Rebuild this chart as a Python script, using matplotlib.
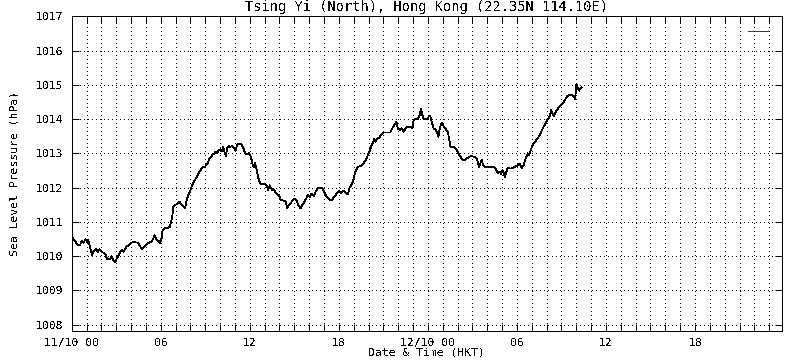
import numpy as np
import matplotlib.pyplot as plt

# hours after 11/10 00:00 HKT
hours = [
    0.00, 0.07, 0.25, 0.40, 0.56, 0.69, 0.81, 0.92, 1.03, 1.12, 1.23, 1.37, 1.50, 1.64, 1.77, 1.89,
    2.02, 2.13, 2.27, 2.38, 2.58, 2.69, 2.81, 2.92, 3.03, 3.17, 3.28, 3.39, 3.50, 3.61, 3.73, 3.84,
    4.00, 4.22, 4.45, 4.60, 4.74, 4.90, 5.05, 5.19, 5.37, 5.50, 5.59, 5.73, 5.86, 5.95, 6.06, 6.13,
    6.29, 6.47, 6.62, 6.76, 6.85, 6.98, 7.14, 7.25, 7.39, 7.52, 7.64, 7.75, 7.86, 7.97, 8.08, 8.20,
    8.31, 8.49, 8.65, 8.80, 8.98, 9.16, 9.25, 9.39, 9.48, 9.61, 9.70, 9.79, 9.88, 10.02, 10.11, 10.20,
    10.29, 10.38, 10.47, 10.56, 10.69, 10.83, 10.96, 11.05, 11.14, 11.27, 11.41, 11.54, 11.68, 11.81,
    11.95, 12.08, 12.17, 12.26, 12.35, 12.47, 12.58, 12.71, 12.89, 13.03, 13.16, 13.25, 13.34, 13.43,
    13.52, 13.61, 13.70, 13.84, 13.97, 14.10, 14.28, 14.42, 14.51, 14.64, 14.78, 14.91, 15.05, 15.18,
    15.27, 15.41, 15.54, 15.68, 15.81, 15.90, 16.04, 16.17, 16.31, 16.44, 16.58, 16.76, 16.89, 17.02,
    17.16, 17.29, 17.52, 17.68, 17.86, 17.99, 18.13, 18.31, 18.48, 18.62, 18.71, 18.87, 18.98, 19.09,
    19.20, 19.32, 19.50, 19.65, 19.81, 19.94, 20.10, 20.21, 20.33, 20.39, 20.48, 20.57, 20.71, 20.84,
    21.00, 21.16, 21.34, 21.47, 21.61, 21.74, 21.88, 21.97, 22.10, 22.24, 22.37, 22.51, 22.64, 22.77,
    22.86, 22.95, 23.04, 23.18, 23.31, 23.45, 23.54, 23.63, 23.72, 23.85, 23.99, 24.08, 24.17, 24.26,
    24.39, 24.53, 24.62, 24.71, 24.80, 24.89, 24.98, 25.07, 25.20, 25.34, 25.43, 25.52, 25.65, 25.78,
    25.96, 26.10, 26.23, 26.37, 26.50, 26.64, 26.77, 26.95, 27.13, 27.27, 27.36, 27.45, 27.54, 27.63,
    27.72, 27.85, 28.03, 28.21, 28.39, 28.52, 28.61, 28.70, 28.84, 28.93, 29.02, 29.11, 29.20, 29.29,
    29.38, 29.51, 29.65, 29.78, 29.92, 30.05, 30.19, 30.32, 30.46, 30.55, 30.64, 30.73, 30.82, 30.91,
    31.00, 31.13, 31.27, 31.40, 31.53, 31.67, 31.80, 31.94, 32.07, 32.21, 32.30, 32.39, 32.48, 32.57,
    32.70, 32.84, 32.97, 33.11, 33.24, 33.38, 33.51, 33.69, 33.83, 33.92, 34.01, 34.10, 34.19, 34.28,
    34.36,
]

# sea level pressure (hPa)
pressure = [
    1010.68, 1010.52, 1010.42, 1010.32, 1010.32, 1010.45, 1010.39, 1010.49, 1010.42, 1010.47, 1010.27,
    1010.03, 1010.16, 1010.20, 1010.13, 1010.20, 1010.13, 1010.10, 1010.06, 1009.91, 1009.91, 1010.00,
    1009.88, 1009.81, 1009.93, 1010.03, 1010.13, 1010.18, 1010.13, 1010.22, 1010.29, 1010.32, 1010.39,
    1010.41, 1010.39, 1010.29, 1010.20, 1010.29, 1010.35, 1010.39, 1010.42, 1010.51, 1010.61, 1010.47,
    1010.44, 1010.39, 1010.52, 1010.76, 1010.81, 1010.81, 1010.86, 1011.10, 1011.44, 1011.49, 1011.54,
    1011.59, 1011.52, 1011.46, 1011.39, 1011.64, 1011.78, 1011.88, 1012.03, 1012.14, 1012.22, 1012.37,
    1012.49, 1012.59, 1012.61, 1012.71, 1012.82, 1012.90, 1012.95, 1013.00, 1013.05, 1013.00, 1013.08,
    1013.12, 1013.05, 1013.19, 1013.05, 1012.92, 1013.14, 1013.21, 1013.19, 1013.21, 1013.14, 1013.08,
    1013.24, 1013.29, 1013.27, 1013.19, 1013.00, 1012.98, 1013.00, 1012.90, 1012.71, 1012.59, 1012.73,
    1012.51, 1012.27, 1012.12, 1012.10, 1012.10, 1012.03, 1011.93, 1012.07, 1011.98, 1011.93, 1011.95,
    1011.88, 1011.81, 1011.78, 1011.64, 1011.62, 1011.59, 1011.41, 1011.49, 1011.56, 1011.64, 1011.68,
    1011.59, 1011.49, 1011.39, 1011.49, 1011.59, 1011.68, 1011.78, 1011.73, 1011.83, 1011.75, 1011.88,
    1011.98, 1011.98, 1011.98, 1011.88, 1011.73, 1011.68, 1011.62, 1011.73, 1011.83, 1011.90, 1011.85,
    1011.91, 1011.83, 1011.81, 1011.98, 1012.09, 1012.22, 1012.44, 1012.54, 1012.61, 1012.64, 1012.70,
    1012.80, 1012.93, 1013.09, 1013.24, 1013.34, 1013.43, 1013.34, 1013.42, 1013.45, 1013.53, 1013.61,
    1013.61, 1013.61, 1013.61, 1013.73, 1013.84, 1013.92, 1013.73, 1013.68, 1013.73, 1013.63, 1013.73,
    1013.78, 1013.75, 1013.78, 1013.73, 1013.97, 1014.00, 1014.00, 1014.12, 1014.29, 1014.12, 1014.00,
    1014.00, 1014.00, 1014.10, 1014.07, 1013.92, 1013.73, 1013.68, 1013.61, 1013.48, 1013.73, 1013.84,
    1013.90, 1013.78, 1013.71, 1013.63, 1013.43, 1013.19, 1013.19, 1013.19, 1013.10, 1012.95, 1012.88,
    1012.80, 1012.80, 1012.85, 1012.90, 1012.92, 1012.90, 1012.85, 1012.76, 1012.61, 1012.71, 1012.80,
    1012.66, 1012.59, 1012.59, 1012.59, 1012.59, 1012.59, 1012.51, 1012.43, 1012.46, 1012.40, 1012.51,
    1012.42, 1012.30, 1012.46, 1012.59, 1012.56, 1012.56, 1012.59, 1012.61, 1012.66, 1012.69, 1012.56,
    1012.66, 1012.80, 1012.90, 1013.00, 1012.95, 1013.05, 1013.19, 1013.29, 1013.37, 1013.44, 1013.53,
    1013.66, 1013.78, 1013.88, 1014.00, 1014.07, 1014.28, 1014.17, 1014.09, 1014.17, 1014.26, 1014.36,
    1014.41, 1014.46, 1014.56, 1014.67, 1014.70, 1014.70, 1014.67, 1014.58, 1015.02, 1014.90, 1014.83,
    1014.90, 1014.93,
]

tick_hours = list(range(48))
day_labels = {0: "11/10 00", 6: "06", 12: "12", 18: "18", 24: "12/10 00", 30: "06", 36: "12", 42: "18"}
y_ticks = list(range(1008, 1018))

plt.rcParams['font.family'] = 'DejaVu Sans Mono'
plt.rcParams['font.size'] = 8.2
plt.rcParams['text.antialiased'] = False

fig = plt.figure(figsize=(8, 3.6), dpi=100)
ax = fig.add_axes([0.0896, 0.0792, 0.8875, 0.8756])

ax.plot(hours, pressure, color='black', lw=0.55, label=' ', antialiased=False)

ax.set_xlim(0, 47.84)
ax.set_ylim(1007.8, 1017)
ax.set_xticks(tick_hours)
ax.set_xticklabels([day_labels.get(h, "") for h in tick_hours])
ax.set_yticks(y_ticks)

ax.tick_params(direction='in', top=True, right=True, length=5, width=0.72)
ax.tick_params(axis='x', pad=4.5)
ax.tick_params(axis='y', pad=6)
ax.grid(True, color='black', linestyle=(0, (1, 3)), linewidth=0.72, antialiased=False)
for s in ax.spines.values():
    s.set_linewidth(0.72)

ax.set_title("Tsing Yi (North), Hong Kong (22.35N 114.10E)", pad=4)
ax.set_xlabel("Date & Time (HKT)", labelpad=0)
ax.set_ylabel("Sea Level Pressure (hPa)", labelpad=12)

ax.legend(loc='upper right', frameon=False, handlelength=1.85, handletextpad=0.0,
          borderaxespad=0.1, bbox_to_anchor=(1.0, 0.985))

fig.savefig('out.png', dpi=100)
